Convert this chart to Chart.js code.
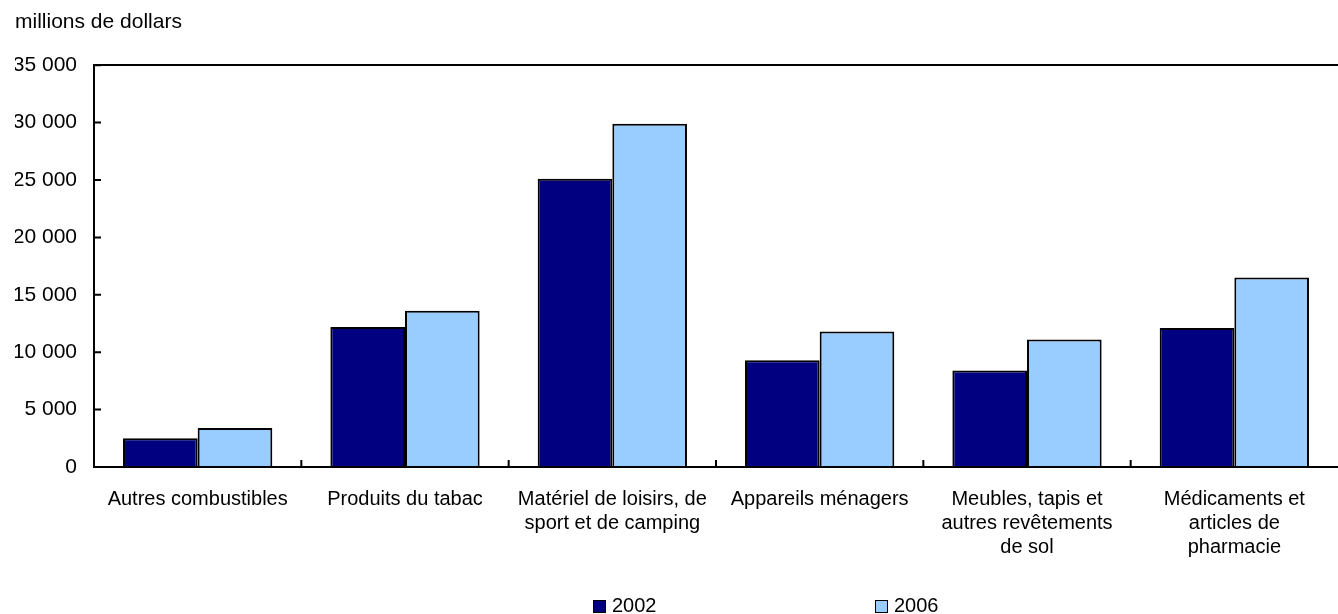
<!DOCTYPE html>
<html>
<head>
<meta charset="utf-8">
<script src="https://cdn.jsdelivr.net/npm/chart.js@4/dist/chart.umd.min.js"></script>
<style>
body { margin: 0; background: #fff; font-family: 'Liberation Sans', Arial, sans-serif; }
#wrap { position: relative; width: 1338px; height: 614px; }
.leg { position: absolute; top: 595px; font-size: 20px; line-height: 20px; color: #000; white-space: nowrap; }
.leg span { display: inline-block; width: 11px; height: 11px; border: 1px solid #000; margin-right: 6px; vertical-align: -1px; }
</style>
</head>
<body>
<div id="wrap">
  <canvas id="myChart"></canvas>
  <div class="leg" style="left:593px"><span style="background:#000080"></span>2002</div>
  <div class="leg" style="left:875px"><span style="background:#99ccff"></span>2006</div>
</div>
<script>
var categories = [
    'Autres combustibles',
    'Produits du tabac',
    ['Matériel de loisirs, de', 'sport et de camping'],
    'Appareils ménagers',
    ['Meubles, tapis et', 'autres revêtements', 'de sol'],
    ['Médicaments et', 'articles de', 'pharmacie']
]
var values2002 = [2500, 12200, 25100, 9300, 8400, 12100]
var values2006 = [3400, 13600, 29900, 11800, 11100, 16500]
var yMax = 35000
var yStep = 5000

Chart.defaults.font.family = "'Liberation Sans', Arial, sans-serif"
Chart.defaults.font.size = 20
Chart.defaults.color = '#000'

function spaced(v) {
    return String(v).replace(/\B(?=(\d{3})+(?!\d))/g, ' ')
}

// tick marks pointing into the plot, like the original
var inwardTicks = {
    id: 'inwardTicks',
    afterDatasetsDraw(chart) {
        var ctx = chart.ctx
        var x = chart.scales.x
        var y = chart.scales.y
        var area = chart.chartArea
        ctx.save()
        ctx.strokeStyle = '#000'
        ctx.lineWidth = 2
        ctx.beginPath()
        y.ticks.forEach(function (t, i) {
            var py = y.getPixelForTick(i)
            ctx.moveTo(area.left, py)
            ctx.lineTo(area.left + 7, py)
        })
        for (var i = 1; i < categories.length; i++) {
            var px = (x.getPixelForTick(i - 1) + x.getPixelForTick(i)) / 2
            ctx.moveTo(px, area.bottom)
            ctx.lineTo(px, area.bottom - 7)
        }
        ctx.stroke()
        ctx.restore()
    }
}

var chartField = document.querySelector('#myChart').getContext('2d')

var myChart = new Chart(chartField, {
    type: 'bar',
    data: {
        labels: categories,
        datasets: [{
            label: '2002',
            data: values2002,
            backgroundColor: '#000080',
            borderColor: '#000',
            borderWidth: 2,
            borderSkipped: 'bottom'
        }, {
            label: '2006',
            data: values2006,
            backgroundColor: '#99ccff',
            borderColor: '#000',
            borderWidth: 2,
            borderSkipped: 'bottom'
        }]
    },
    options: {
        responsive: true,
        maintainAspectRatio: false,
        animation: false,
        categoryPercentage: 0.72,
        barPercentage: 1,
        layout: { padding: { left: 15, right: 0, top: 0, bottom: 0 } },
        plugins: {
            legend: { display: false },
            tooltip: { enabled: false },
            title: {
                display: true,
                text: 'millions de dollars',
                align: 'start',
                color: '#000',
                font: { size: 21, weight: 'normal' },
                padding: { top: 10, bottom: 30 }
            }
        },
        scales: {
            x: {
                grid: { display: false },
                border: { display: true, color: '#000', width: 2 },
                ticks: { padding: 12, maxRotation: 0, autoSkip: false, font: { size: 20, lineHeight: 1.2 } },
                afterFit: function (scale) { scale.height = 147 }
            },
            y: {
                min: 0,
                max: yMax,
                grid: {
                    drawTicks: false,
                    lineWidth: 2,
                    color: function (c) { return c.tick && c.tick.value === yMax ? '#000' : 'rgba(0,0,0,0)' }
                },
                border: { display: true, color: '#000', width: 2 },
                ticks: {
                    stepSize: yStep,
                    padding: 17,
                    font: { size: 21 },
                    callback: function (v) { return spaced(v) }
                },
                afterFit: function (scale) { scale.width = 79 }
            }
        }
    },
    plugins: [inwardTicks]
})
</script>
</body>
</html>
